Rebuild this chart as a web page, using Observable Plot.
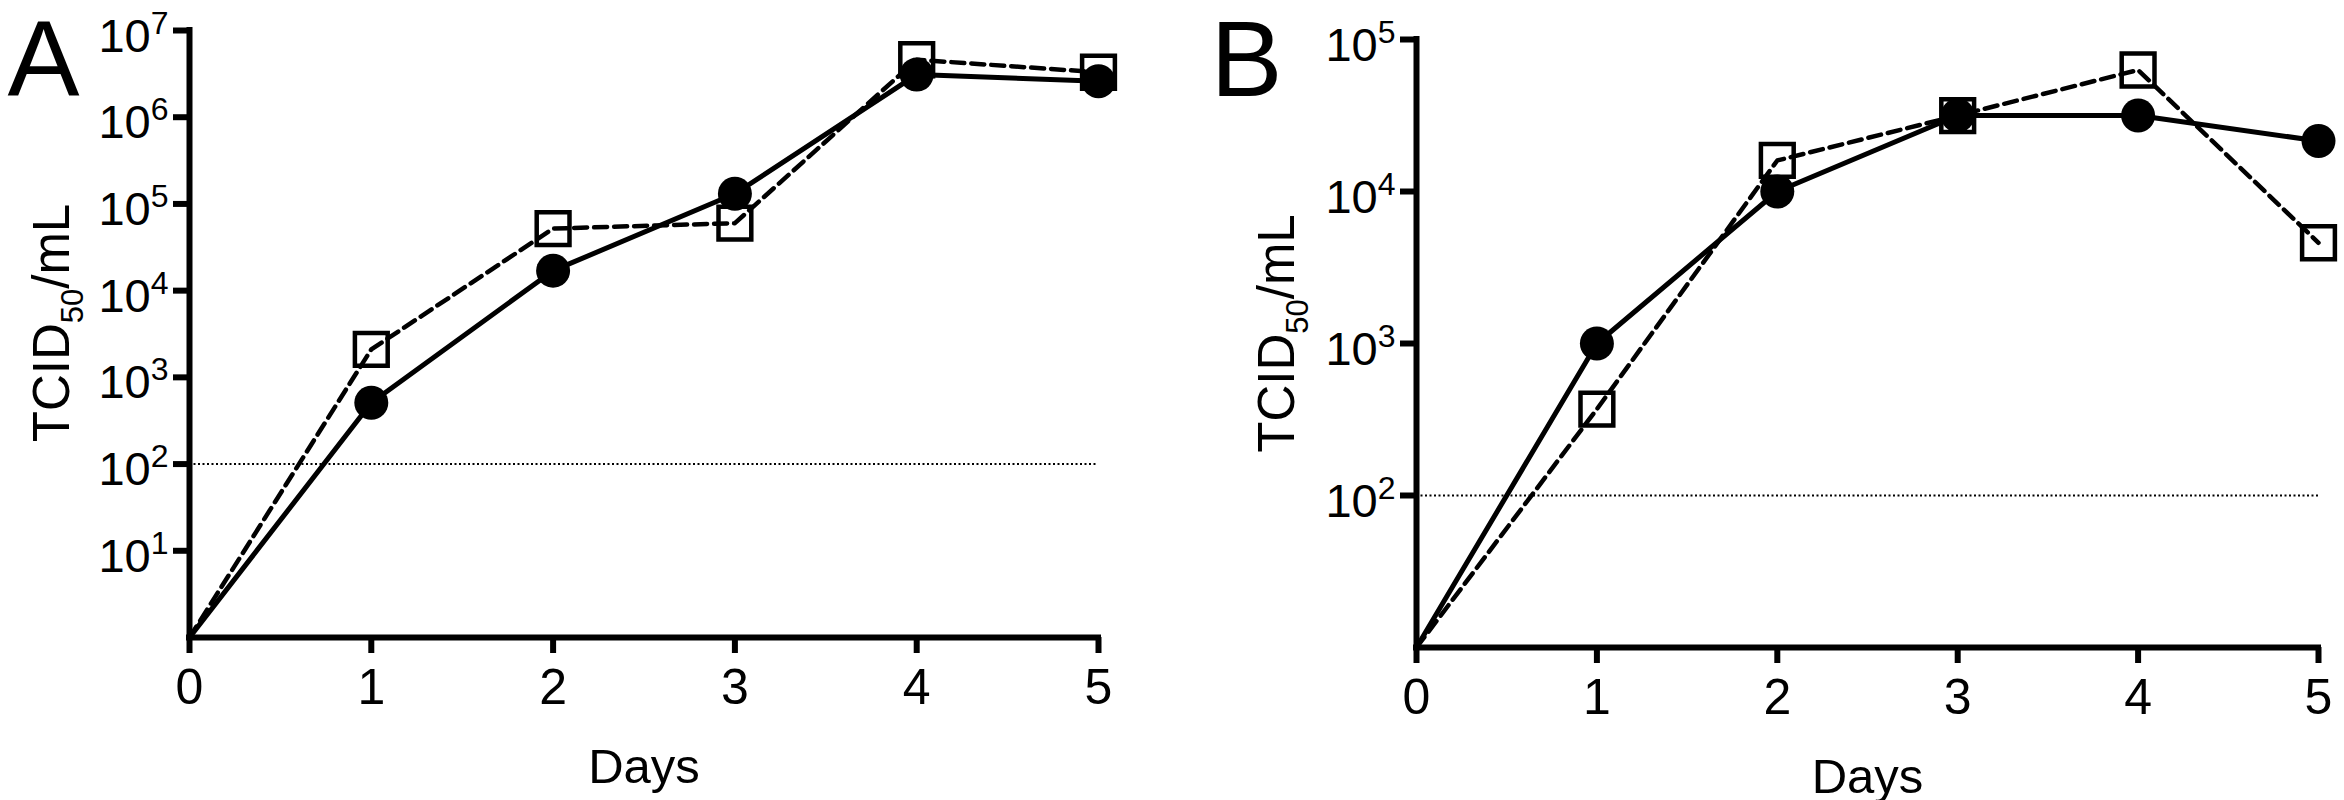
<!DOCTYPE html>
<html>
<head>
<meta charset="utf-8">
<script src="https://cdn.jsdelivr.net/npm/d3@7"></script>
<script src="https://cdn.jsdelivr.net/npm/@observablehq/plot@0.6"></script>
<style>
  html, body { margin: 0; padding: 0; background: #fff; }
  #wrap { display: flex; width: 2344px; height: 800px; }
  #wrap > div { width: 1172px; height: 800px; }
</style>
</head>
<body>
<div id="wrap"><div id="panelA"></div><div id="panelB"></div></div>
<script>
// ---- data ----
const days = [0, 1, 2, 3, 4, 5];
const xTicks = [0, 1, 2, 3, 4, 5];

// Panel A
const aCircle = [1, 510, 17000, 131000, 3100000, 2600000];
const aSquare = [1, 2100, 52000, 60000, 4600000, 3300000];
const aYTicks = [1e1, 1e2, 1e3, 1e4, 1e5, 1e6, 1e7];
const aYDomain = [1, 1e7];

// Panel B
const bCircle = [10, 1000, 10000, 31600, 31600, 21500];
const bSquare = [10, 370, 16000, 31600, 63000, 4600];
const bYTicks = [1e2, 1e3, 1e4, 1e5];
const bYDomain = [10, 1e5];

const threshold = 100;
const xTitle = "Days";
const yTitle = "TCID50/mL";
const panelLetters = ["A", "B"];

const FONT = "'Liberation Sans', Arial, Helvetica, sans-serif";

function makePanel(cfg) {
  const circ = days.map((d, i) => ({day: d, titer: cfg.circle[i]}));
  const sq = days.map((d, i) => ({day: d, titer: cfg.square[i]}));
  const [yMin, yMax] = cfg.yDomain;
  const plot = Plot.plot({
    width: 1172,
    height: 800,
    marginLeft: cfg.ml, marginRight: cfg.mr, marginTop: cfg.mt, marginBottom: cfg.mb,
    style: {fontFamily: FONT, fontSize: "48px", color: "black", background: "white", overflow: "visible"},
    x: {domain: [0, 5]},
    y: {type: "log", domain: cfg.yDomain},
    marks: [
      Plot.ruleY([threshold], {x1: 0, x2: 5, strokeWidth: 2, strokeDasharray: "2,2.5"}),
      Plot.axisX({ticks: xTicks, tickSize: 16, tickPadding: 15, strokeWidth: 6, label: null, tickFormat: d => String(d)}),
      Plot.axisY({ticks: cfg.yTicks, tickSize: 16, tickPadding: 5, strokeWidth: 6, label: null,
                  tickFormat: d => "10^" + Math.round(Math.log10(d))}),
      Plot.ruleX([0], {y1: yMin, y2: yMax, strokeWidth: 6, strokeLinecap: "square"}),
      Plot.ruleY([yMin], {x1: 0, x2: 5, strokeWidth: 6, strokeLinecap: "square"}),
      Plot.line(sq, {x: "day", y: "titer", strokeWidth: 4.5, strokeDasharray: "13,7"}),
      Plot.dot(sq.filter(d => d.day > 0), {x: "day", y: "titer", symbol: "square", r: 18.5, stroke: "black", strokeWidth: 4.5, fill: "none"}),
      Plot.line(circ, {x: "day", y: "titer", strokeWidth: 5}),
      Plot.dot(circ.filter(d => d.day > 0), {x: "day", y: "titer", r: 17, fill: "black", stroke: "none"}),
      Plot.text([xTitle], {text: d => d, frameAnchor: "bottom", dy: cfg.xTitleDy, lineAnchor: "top", fontSize: 49}),
      Plot.text([yTitle], {text: d => d, frameAnchor: "left", rotate: -90, dx: cfg.yTitleDx, dy: cfg.yTitleDy,
                           textAnchor: "middle", lineAnchor: "top", fontSize: 51}),
      Plot.text([cfg.letter], {text: d => d, frameAnchor: "top-left", dx: cfg.letterDx, dy: cfg.letterDy,
                               textAnchor: "start", lineAnchor: "top", fontSize: 108})
    ]
  });

  const svg = d3.select(plot);
  svg.selectAll('g[aria-label="x-axis tick label"]').attr("font-size", 50);
  svg.selectAll('g[aria-label="x-axis tick label"] text').attr("font-size", 50);
  // superscript exponents on the y tick labels
  svg.selectAll('g[aria-label="y-axis tick label"] text').each(function () {
    const t = d3.select(this);
    const [base, exp] = t.text().split("^");
    t.text(null).attr("dy", "6").attr("font-size", 47);
    t.append("tspan").text(base);
    t.append("tspan").attr("dy", -18).attr("font-size", 32).text(exp);
  });
  // subscript in the y title
  svg.selectAll("text").filter(function () { return this.textContent === yTitle; }).each(function () {
    const t = d3.select(this);
    const m = yTitle.match(/^(\D+)(\d+)(.*)$/);
    t.text(null);
    t.append("tspan").text(m[1]);
    t.append("tspan").attr("dy", 14).attr("font-size", 31).text(m[2]);
    t.append("tspan").attr("dy", -14).text(m[3]);
  });
  return plot;
}

document.getElementById("panelA").appendChild(makePanel({
  circle: aCircle, square: aSquare, yTicks: aYTicks, yDomain: aYDomain, letter: panelLetters[0],
  ml: 189, mr: 74, mt: 30, mb: 163,
  xTitleDy: 111, yTitleDx: -157, yTitleDy: -11, letterDx: -182, letterDy: -11
}));
document.getElementById("panelB").appendChild(makePanel({
  circle: bCircle, square: bSquare, yTicks: bYTicks, yDomain: bYDomain, letter: panelLetters[1],
  ml: 244, mr: 26, mt: 39, mb: 153,
  xTitleDy: 111, yTitleDx: -159, yTitleDy: -10, letterDx: -206, letterDy: -20
}));
</script>
</body>
</html>
